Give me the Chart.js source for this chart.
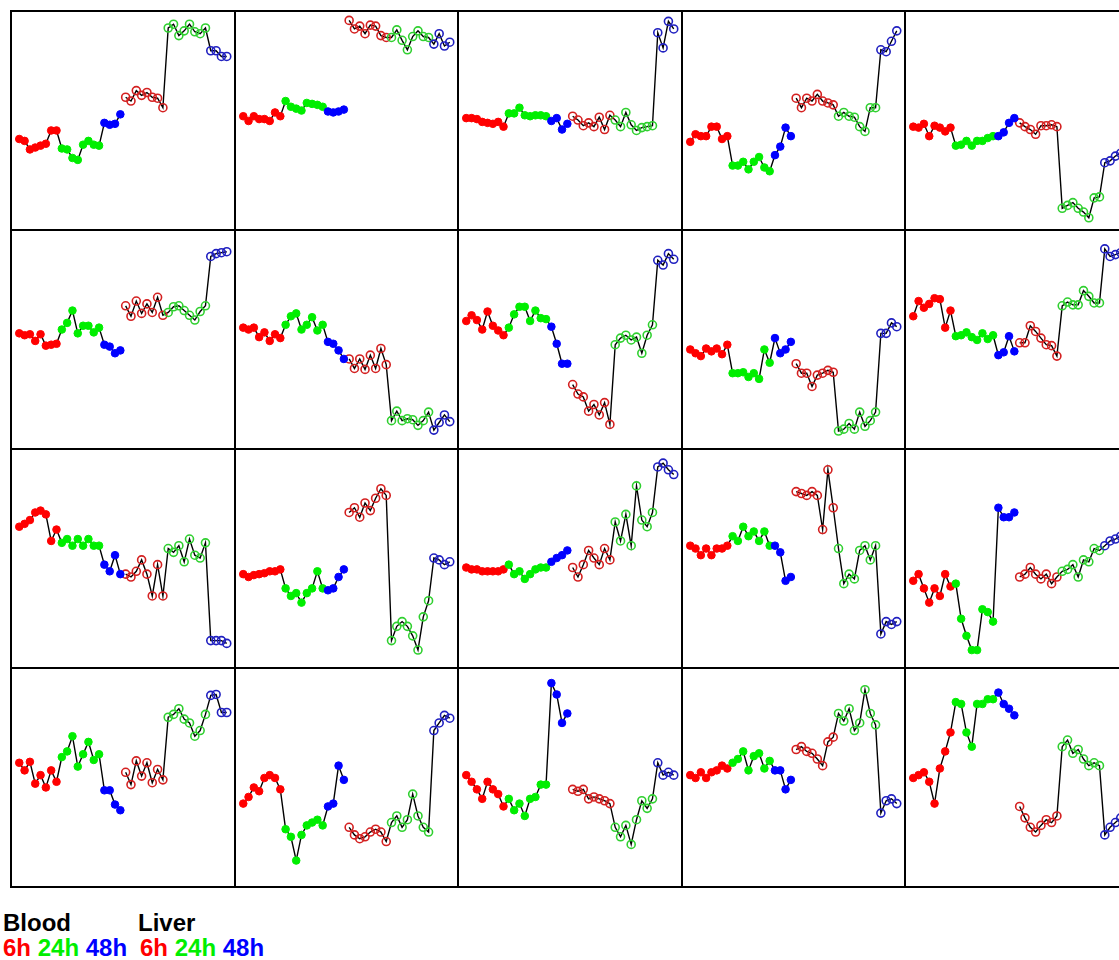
<!DOCTYPE html>
<html>
<head>
<meta charset="utf-8">
<script src="https://cdn.jsdelivr.net/npm/chart.js@4"></script>
<style>
  html, body { margin: 0; padding: 0; background: #fff; overflow: hidden; width: 1119px; height: 960px; }
  .cell { position: absolute; }
  .vline, .hline { position: absolute; background: #000; }
  .legend { position: absolute; font-family: "Liberation Sans", Arial, sans-serif; font-weight: bold; font-size: 24px; line-height: 25px; white-space: pre; }
</style>
</head>
<body>
<div id="grid"></div>
<div class="legend" style="left:3px; top:910px;">Blood</div>
<div class="legend" style="left:138px; top:910px;">Liver</div>
<div class="legend" style="left:3px; top:935px;"><span style="color:#ff0000">6h</span> <span style="color:#00ee00">24h</span> <span style="color:#0000ff">48h</span></div>
<div class="legend" style="left:140px; top:935px;"><span style="color:#ff0000">6h</span> <span style="color:#00ee00">24h</span> <span style="color:#0000ff">48h</span></div>
<script>
// time groups: 8 x 6h, 8 x 24h, 4 x 48h in each tissue
const groupSizes = [8, 8, 4];
const bloodColors = ['#ff0000', '#00ee00', '#0000ff'];
const liverColors = ['#d42020', '#30d030', '#2020c0'];

// values (distance from panel top, px), one row per panel
const bloodValues = [
  [129,131,140,138,136,134,120,120, 139,140,149,151,135,131,135,136, 112,114,113,103],
  [105,110,105,108,108,110,101,105, 89,95,97,99,91,92,93,95, 100,101,100,98],
  [107,107,108,111,112,113,111,116, 102,102,96,104,105,104,104,105, 110,107,119,113],
  [132,124,126,126,116,116,129,126, 157,157,153,161,153,148,159,163, 146,137,117,126],
  [116,117,113,126,115,117,121,117, 136,135,131,136,131,131,128,126, 126,122,112,107],
  [103,105,104,111,104,116,115,114, 99,92,79,103,95,95,102,97, 115,117,124,121],
  [97,99,97,107,102,111,104,108, 94,85,82,99,94,86,100,94, 112,114,121,130],
  [90,84,89,99,80,95,100,105, 97,83,75,75,90,79,87,88, 96,114,135,135],
  [120,124,127,119,122,119,125,115, 145,145,144,149,145,151,120,134, 108,124,120,112],
  [85,69,76,72,66,67,97,79, 106,105,102,107,110,103,109,105, 126,123,106,122],
  [76,73,69,61,59,63,91,79, 93,89,96,89,96,89,96,96, 116,123,106,126],
  [126,129,127,126,125,123,123,121, 141,149,146,156,146,141,123,141, 143,141,129,121],
  [119,121,121,123,123,123,123,121, 116,126,123,131,126,121,119,119, 113,109,106,101],
  [96,99,106,99,106,99,99,96, 86,91,76,86,81,91,81,96, 96,103,133,129],
  [133,126,141,156,141,149,126,139, 136,173,191,206,206,163,166,176, 56,66,66,61],
  [94,102,93,116,107,120,102,114, 88,82,66,98,85,72,91,85, 123,123,138,144],
  [137,130,120,124,110,107,110,122, 164,172,197,170,160,157,154,160, 140,137,97,112],
  [107,114,122,132,114,122,127,140, 132,144,137,150,132,130,117,117, 10,22,52,42],
  [107,110,104,110,104,102,97,100, 94,90,82,102,87,84,100,92, 102,102,122,112],
  [110,107,104,114,137,100,82,62, 30,32,62,77,32,32,27,27, 20,32,37,44]
];

const liverValues = [
  [85,89,78,83,80,85,86,96, 12,8,20,15,8,16,18,12, 36,36,42,42],
  [4,13,10,18,9,10,20,22, 22,14,25,35,21,15,21,22, 29,18,31,27],
  [105,109,115,112,116,106,119,104, 109,116,101,114,120,117,116,115, 17,33,5,13],
  [86,96,86,89,82,89,91,93, 105,101,105,106,116,121,96,96, 35,37,26,15],
  [112,116,119,124,115,115,114,116, 202,199,196,202,206,212,191,190, 154,152,147,144],
  [74,85,69,82,72,81,65,84, 81,75,74,79,84,89,80,74, 22,19,18,17],
  [130,140,130,141,126,140,119,136, 195,185,195,193,194,200,195,186, 205,197,189,196],
  [157,167,170,185,178,189,176,199, 115,108,105,110,107,124,105,94, 26,31,19,25],
  [135,145,145,159,147,145,142,144, 206,204,198,204,186,201,195,186, 103,103,92,96],
  [113,113,95,101,108,115,116,127, 74,70,73,73,58,64,71,71, 14,22,20,18],
  [126,129,123,111,126,149,116,149, 99,103,96,113,89,106,109,93, 196,196,196,199],
  [61,56,66,51,59,46,36,43, 196,181,176,181,191,206,171,154, 109,111,116,113],
  [119,129,116,101,109,116,99,111, 71,91,63,96,33,69,76,61, 13,9,16,21],
  [39,41,43,39,43,79,16,56, 99,136,126,131,101,96,111,96, 189,176,179,176],
  [129,126,119,126,131,126,136,129, 123,121,116,129,111,113,99,101, 96,91,89,86],
  [104,117,92,108,94,115,101,112, 46,43,37,48,52,66,60,43, 23,22,41,41],
  [162,170,174,172,167,164,167,177, 157,150,162,154,127,150,162,167, 60,52,44,47],
  [122,124,122,132,130,132,134,137, 162,172,160,180,154,134,142,132, 94,107,104,107],
  [80,77,82,84,90,97,72,67, 42,50,37,60,52,17,42,54, 147,134,132,137],
  [140,152,162,167,160,154,157,150, 77,70,84,80,90,97,94,97, 170,162,157,152]
];

const nCols = 5, nRows = 4;
const colX = [11, 234.5, 458, 681.5, 905, 1128.5];
const rowY = [11, 230, 449, 668, 887];
const perTissue = groupSizes.reduce((a, b) => a + b, 0);
const labels = Array.from({length: perTissue * 2}, (_, i) => String(i));

function groupOf(i) {
  i = i % perTissue;
  let acc = 0;
  for (let g = 0; g < groupSizes.length; g++) {
    acc += groupSizes[g];
    if (i < acc) return g;
  }
  return groupSizes.length - 1;
}

const grid = document.getElementById('grid');

for (let p = 0; p < bloodValues.length; p++) {
  const r = Math.floor(p / nCols), c = p % nCols;
  const left = Math.round(colX[c]), top = rowY[r];
  const w = Math.round(colX[c + 1]) - left, h = rowY[r + 1] - top;

  const cell = document.createElement('div');
  cell.className = 'cell';
  cell.style.left = left + 'px';
  cell.style.top = top + 'px';
  const cv = document.createElement('canvas');
  cv.width = w; cv.height = h;
  cv.style.width = w + 'px'; cv.style.height = h + 'px';
  cell.appendChild(cv);
  grid.appendChild(cell);

  const blood = bloodValues[p].concat(Array(perTissue).fill(null));
  const liver = Array(perTissue).fill(null).concat(liverValues[p]);

  new Chart(cv.getContext('2d'), {
    type: 'line',
    data: {
      labels: labels,
      datasets: [{
        data: blood,
        borderColor: '#000',
        borderWidth: 1.4,
        tension: 0,
        pointRadius: 3.8,
        pointBorderWidth: 1,
        pointBackgroundColor: ctx => bloodColors[groupOf(ctx.dataIndex)],
        pointBorderColor: ctx => bloodColors[groupOf(ctx.dataIndex)],
        clip: false
      }, {
        data: liver,
        borderColor: '#000',
        borderWidth: 1.4,
        tension: 0,
        pointRadius: 4,
        pointBorderWidth: 1.6,
        pointBackgroundColor: 'rgba(0,0,0,0)',
        pointBorderColor: ctx => liverColors[groupOf(ctx.dataIndex)],
        clip: false
      }]
    },
    options: {
      responsive: false,
      animation: false,
      devicePixelRatio: 1,
      layout: { padding: 0 },
      plugins: { legend: { display: false }, tooltip: { enabled: false } },
      scales: {
        x: { display: false, offset: true },
        y: { display: false, reverse: true, min: 0, max: h }
      }
    }
  });
}

// panel frame lines
for (let c = 0; c <= nCols; c++) {
  const d = document.createElement('div');
  d.className = 'vline';
  d.style.left = (Math.round(colX[c]) - 1) + 'px';
  d.style.top = (rowY[0] - 1) + 'px';
  d.style.width = '2px';
  d.style.height = (rowY[nRows] - rowY[0] + 2) + 'px';
  document.body.appendChild(d);
}
for (let r = 0; r <= nRows; r++) {
  const d = document.createElement('div');
  d.className = 'hline';
  d.style.left = (colX[0] - 1) + 'px';
  d.style.top = (rowY[r] - 1) + 'px';
  d.style.height = '2px';
  d.style.width = (Math.round(colX[nCols]) - colX[0] + 2) + 'px';
  document.body.appendChild(d);
}
</script>
</body>
</html>
